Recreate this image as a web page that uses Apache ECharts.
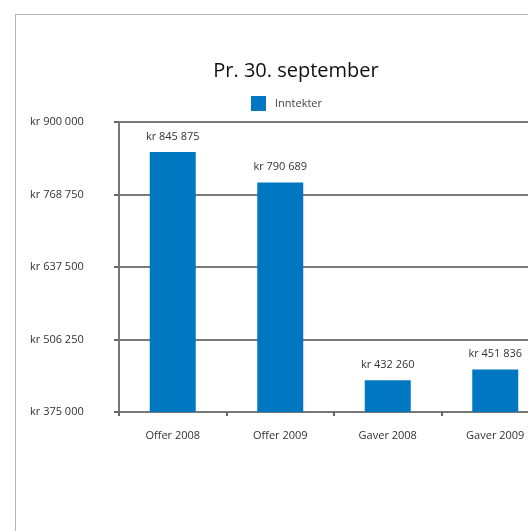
<!DOCTYPE html>
<html>
<head>
<meta charset="UTF-8"/>
<script src="https://cdn.jsdelivr.net/npm/echarts@6/dist/echarts.min.js"></script>
<style>
  html, body { margin: 0; padding: 0; overflow: hidden; background: #fff; }
  #main { position: absolute; left: 15px; top: 14px; width: 600px; height: 600px;
          border: 1px solid #b4b4b4; }
</style>
</head>
<body>
<div id="main"></div>
<script type="text/javascript">
// data
var categories = ['Offer 2008', 'Offer 2009', 'Gaver 2008', 'Gaver 2009'];
var inntekter = [845875, 790689, 432260, 451836];
var yTicks = [375000, 506250, 637500, 768750, 900000];

function kr(v) {
    // "kr 845 875"
    return 'kr ' + String(v).replace(/\B(?=(\d{3})+(?!\d))/g, ' ');
}

var font = 'Open Sans';
var myChart = echarts.init(document.getElementById('main'));
var option = {
    animation: false,
    title: {
        text: 'Pr. 30. september',
        left: 275,
        top: 41,
        textAlign: 'center',
        textStyle: { fontFamily: font, fontSize: 20, fontWeight: 'normal', color: '#111' }
    },
    legend: {
        data: ['Inntekter'],
        left: 230,
        top: 76,
        itemWidth: 15,
        itemHeight: 15,
        icon: 'rect',
        textStyle: { fontFamily: font, fontSize: 11, color: '#444', padding: [0, 0, 0, 4] }
    },
    grid: { left: 103, top: 107, width: 430, height: 290, containLabel: false },
    xAxis: {
        type: 'category',
        data: categories,
        axisLine: { lineStyle: { color: '#777', width: 2 } },
        axisTick: { show: true, length: 4, lineStyle: { color: '#666', width: 2 } },
        axisLabel: { fontFamily: font, fontSize: 11, color: '#333', margin: 18 }
    },
    yAxis: {
        type: 'value',
        min: yTicks[0],
        max: yTicks[yTicks.length - 1],
        axisLine: { show: true, lineStyle: { color: '#777', width: 2 } },
        axisTick: { show: true, length: 5, lineStyle: { color: '#666', width: 2 },
                    customValues: yTicks },
        axisLabel: { fontFamily: font, fontSize: 11, color: '#333', margin: 89,
                     align: 'left', customValues: yTicks,
                     formatter: function (v) { return kr(v); } },
        splitLine: { show: true, lineStyle: { color: '#7a7a7a', width: 2 } }
    },
    series: [{
        name: 'Inntekter',
        type: 'bar',
        data: inntekter,
        barWidth: 46,
        itemStyle: { color: '#0077c0' },
        label: {
            show: true,
            position: 'top',
            distance: 10,
            fontFamily: font,
            fontSize: 11,
            color: '#333',
            formatter: function (p) { return kr(p.value); }
        }
    }]
};
myChart.setOption(option);
</script>
</body>
</html>
